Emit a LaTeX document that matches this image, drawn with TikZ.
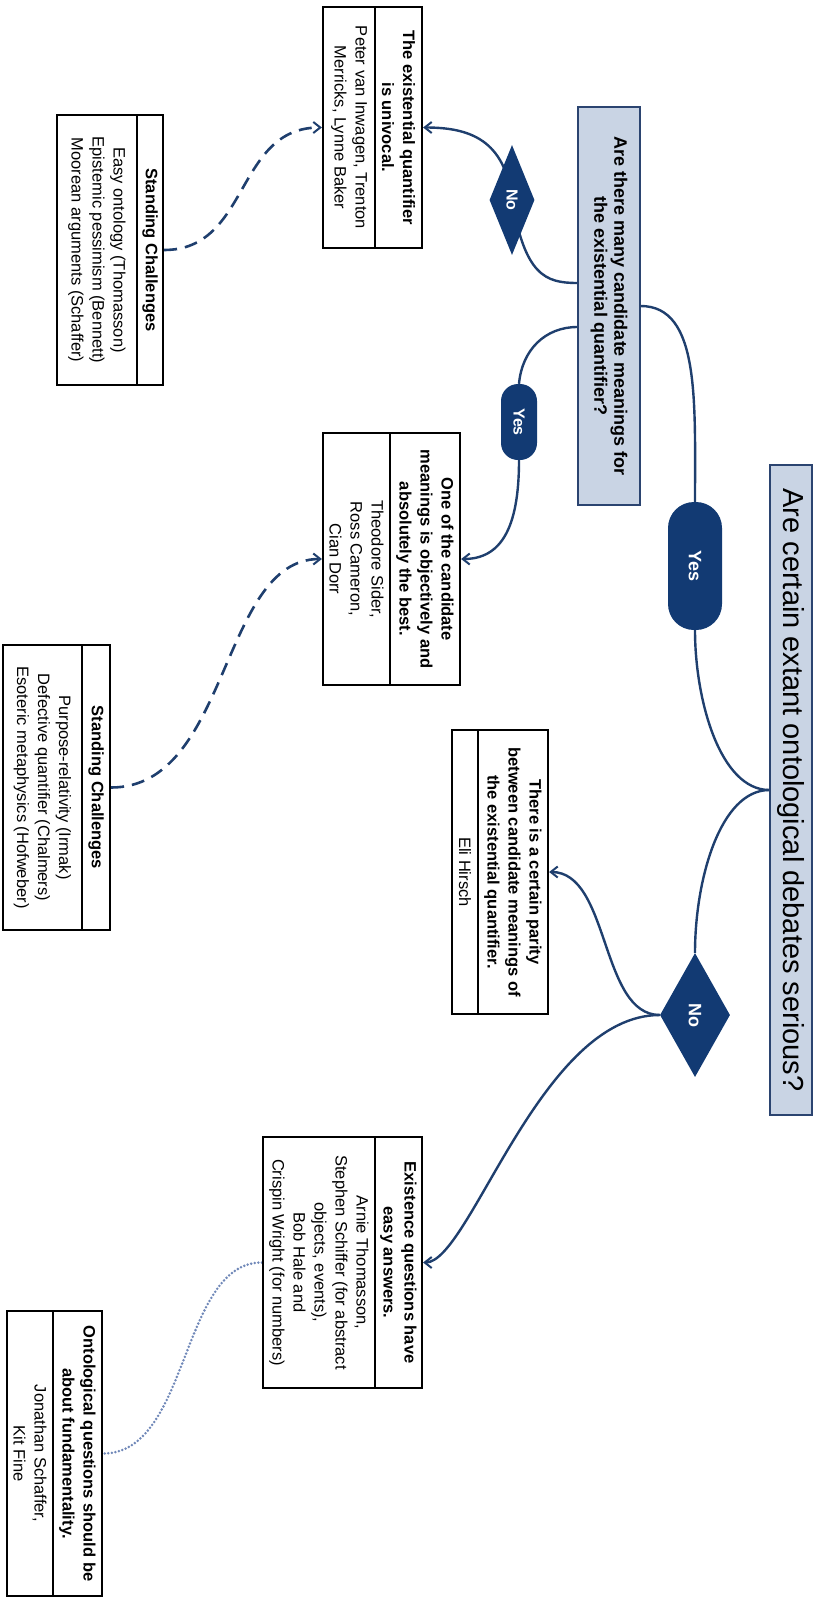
\documentclass[tikz,border=0pt]{standalone}
\usepackage{fontspec}
\setmainfont{Liberation Sans}
\usetikzlibrary{shapes.geometric,arrows.meta,calc,backgrounds}
\definecolor{navy}{HTML}{123A73}
\definecolor{linec}{HTML}{1F3F6E}
\definecolor{qfill}{HTML}{C9D4E4}
\definecolor{qborder}{HTML}{2B4470}
\definecolor{dotc}{HTML}{7088B8}
\begin{document}
\begin{tikzpicture}[x=1pt,y=1pt,
  cbox/.style={draw=black, line width=2.2pt, fill=white, rotate=-90, inner sep=0pt},
  divl/.style={black, line width=2.2pt},
  hdr/.style={rotate=-90, align=center, inner sep=0pt, font=\bfseries\fontsize{16.5}{21}\selectfont},
  bdy/.style={rotate=-90, align=center, inner sep=0pt, font=\fontsize{16.5}{21}\selectfont},
  qbox/.style={draw=qborder, line width=1.2pt, fill=qfill, rotate=-90, inner sep=0pt, text=black},
  pill/.style={fill=navy, rounded corners=17pt, rotate=-90, inner sep=0pt, text=white, font=\bfseries\fontsize{16}{18}\selectfont},
  dia/.style={diamond, fill=navy, rotate=-90, inner sep=0pt, text=white, font=\bfseries\fontsize{16}{18}\selectfont},
  conn/.style={linec, line width=2.4pt},
  arr/.style={-{Straight Barb[length=7pt,width=11pt,line width=2pt]}},
  dashc/.style={linec, line width=2.6pt, dash pattern=on 13pt off 8pt},
  dotl/.style={dotc, line width=2.8pt, dash pattern=on 0pt off 3.6pt, line cap=round}
]
\useasboundingbox (0,0) rectangle (822,-1598);

% title and question
\node[qbox, minimum width=650, minimum height=42, font=\fontsize{29}{32}\selectfont] (T) at (791,-790) {Are certain extant ontological debates serious?};
\node[qbox, minimum width=398, minimum height=62, align=center, font=\bfseries\fontsize{18}{20}\selectfont] (Q) at (609,-306) {Are there many candidate meanings for\\the existential quantifier?};

% answer markers
\node[pill, minimum width=128, minimum height=54, rounded corners=26pt, font=\bfseries\fontsize{18}{20}\selectfont] (P1) at (695,-566) {Yes};
\node[dia, minimum width=124, minimum height=70, font=\bfseries\fontsize{18}{20}\selectfont] (D1) at (695,-1015) {No};
\node[dia, minimum width=110, minimum height=45] (D2) at (512,-200) {No};
\node[pill, minimum width=76, minimum height=36] (P2) at (519,-422) {Yes};

% box A
\node[cbox, minimum width=241, minimum height=99] (A) at (372.5,-127.5) {};
\draw[divl] (375,-7) -- (375,-248);
\node[hdr] (Ah) at (398.5,-127.5) {The existential quantifier\\is univocal.};
\node[bdy] (Ab) at (349,-127.5) {Peter van Inwagen, Trenton\\Merricks, Lynne Baker};

% standing challenges 1
\node[cbox, minimum width=270, minimum height=106] (S1) at (110,-250) {};
\draw[divl] (137,-115) -- (137,-385);
\node[hdr] (S1h) at (150,-250) {Standing Challenges};
\node[bdy] (S1b) at (97,-250) {Easy ontology (Thomasson)\\Epistemic pessimism (Bennett)\\Moorean arguments (Schaffer)};

% box B
\node[cbox, minimum width=252, minimum height=137] (B) at (391.5,-559) {};
\draw[divl] (390,-433) -- (390,-685);
\node[hdr] (Bh) at (425,-559) {One of the candidate\\meanings is objectively and\\absolutely the best.};
\node[bdy] (Bb) at (356.5,-559) {Theodore Sider,\\Ross Cameron,\\Cian Dorr};

% standing challenges 2
\node[cbox, minimum width=285, minimum height=107] (S2) at (56.5,-787.5) {};
\draw[divl] (82,-645) -- (82,-930);
\node[hdr] (S2h) at (96,-787.5) {Standing Challenges};
\node[bdy] (S2b) at (42.5,-787.5) {Purpose-relativity (Irmak)\\Defective quantifier (Chalmers)\\Esoteric metaphysics (Hofweber)};

% box C
\node[cbox, minimum width=284, minimum height=96] (C) at (500,-872) {};
\draw[divl] (478,-730) -- (478,-1014);
\node[hdr] (Ch) at (513,-872) {There is a certain parity\\between candidate meanings of\\the existential quantifier.};
\node[bdy] (Cb) at (465,-872) {Eli Hirsch};

% box D
\node[cbox, minimum width=251, minimum height=159] (D) at (342.5,-1262.5) {};
\draw[divl] (375,-1137) -- (375,-1388);
\node[hdr] (Dh) at (398.5,-1262.5) {Existence questions have\\easy answers.};
\node[bdy] (Db) at (319,-1262.5) {Arnie Thomasson,\\Stephen Schiffer (for abstract\\objects, events),\\Bob Hale and\\Crispin Wright (for numbers)};

% box E
\node[cbox, minimum width=285, minimum height=95] (E) at (54.5,-1453.5) {};
\draw[divl] (53,-1311) -- (53,-1596);
\node[hdr] (Eh) at (77.5,-1453.5) {Ontological questions should be\\about fundamentality.};
\node[bdy] (Eb) at (30,-1453.5) {Jonathan Schaffer,\\Kit Fine};

\begin{scope}[on background layer]
\draw[conn] (T.south) .. controls (720,-790) and (695,-700) .. (P1.east);
\draw[conn] (T.south) .. controls (720,-790) and (695,-880) .. (D1.west);
\draw[conn] (P1.west) .. controls (695,-400) and (700,-306) .. (Q.north);
\draw[conn] (D2.center) .. controls (525,-275) and (545,-283) .. ($(Q.south)+(0,23)$);
\draw[conn] ($(Q.south)+(0,-21)$) .. controls (545,-327) and (522,-350) .. (P2.west);
\draw[conn,arr] (D2.center) .. controls (505,-140) and (470,-127.5) .. (A.north);
\draw[conn,arr] (P2.east) .. controls (519,-530) and (500,-559) .. (B.north);
\draw[conn,arr] (D1.south) .. controls (600,-1015) and (610,-872) .. (C.north);
\draw[conn,arr] (D1.south) .. controls (540,-1015) and (470,-1262.5) .. (D.north);
\draw[dashc,arr] (S1.north) .. controls (250,-250) and (235,-127.5) .. (A.south);
\draw[dashc,arr] (S2.north) .. controls (230,-787.5) and (220,-559) .. (B.south);
\draw[dotl] (D.south) .. controls (180,-1262.5) and (190,-1453.5) .. (E.north);
\end{scope}
\end{tikzpicture}
\end{document}
